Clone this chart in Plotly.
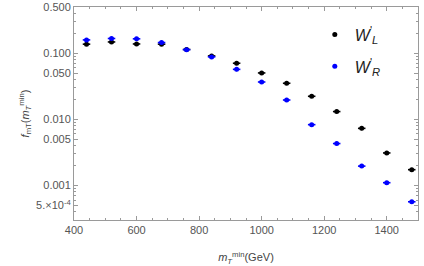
import plotly.graph_objects as go
import numpy as np

x = [440, 520, 600, 680, 760, 840, 920, 1000, 1080, 1160, 1240, 1320, 1400, 1480]
wl = [0.137, 0.148, 0.138, 0.137, 0.114, 0.091, 0.0705, 0.0503, 0.0351, 0.0223, 0.0131, 0.0073, 0.0031, 0.00173]
wr = [0.159, 0.167, 0.165, 0.145, 0.113, 0.088, 0.057, 0.0367, 0.0196, 0.0083, 0.0043, 0.00196, 0.0011, 0.000566]

ytickvals = [0.0005, 0.001, 0.005, 0.01, 0.05, 0.1, 0.5]
yticktext = ["5.×10<sup>-4</sup>", "0.001", "0.005", "0.010", "0.050", "0.100", "0.500"]
xtickvals = [400, 600, 800, 1000, 1200, 1400]

minor_y = []
for e in [-4, -3, -2, -1]:
    for d in range(1, 10):
        minor_y.append(d * 10.0 ** e)

fig = go.Figure()
for name, ys, col, grp in [("<i>W</i><sup>'</sup><sub><i>L</i></sub>", wl, "black", "L"),
                           ("<i>W</i><sup>'</sup><sub><i>R</i></sub>", wr, "blue", "R")]:
    fig.add_trace(go.Scatter(
        x=x, y=ys, mode="markers", name=name, legendgroup=grp,
        marker=dict(color=col, size=5),
        error_x=dict(type="constant", value=12, color=col, thickness=1.6, width=0),
        error_y=dict(type="percent", value=6, color=col, thickness=1.2, width=0),
    ))

axcol = "#9a9a9a"
fig.update_layout(
    width=424, height=266,
    margin=dict(l=74, r=6, t=7, b=46),
    paper_bgcolor="white", plot_bgcolor="white",
    font=dict(family="Liberation Sans, Arial", color="#555555", size=11),
    showlegend=True,
    legend=dict(x=0.70, y=0.95, xanchor="left", yanchor="top",
                font=dict(size=16, color="#222222"), bgcolor="rgba(0,0,0,0)",
                itemsizing="trace", tracegroupgap=8),
    xaxis=dict(range=[400, 1500], tickvals=xtickvals, showgrid=False, zeroline=False,
               showline=True, linecolor=axcol, linewidth=1, mirror="allticks", ticks="inside",
               ticklen=4, tickcolor=axcol, automargin=False,
               minor=dict(tickvals=list(range(400, 1501, 50)), ticks="inside", ticklen=2, tickcolor=axcol),
               title=dict(text="<i>m</i><sub><i>T</i></sub><sup>min</sup>(GeV)", standoff=18,
                          font=dict(size=11, color="#444444"))),
    yaxis=dict(type="log", range=[np.log10(3e-4), np.log10(0.5)], tickvals=ytickvals,
               ticktext=yticktext, showgrid=False, zeroline=False,
               showline=True, linecolor=axcol, linewidth=1, mirror="allticks", ticks="inside",
               ticklen=4, tickcolor=axcol, automargin=False,
               minor=dict(tickvals=minor_y, ticks="inside", ticklen=2, tickcolor=axcol),
               title=dict(text="<i>f</i><sub>mT</sub>(<i>m</i><sub><i>T</i></sub><sup>min</sup>)",
                          standoff=4, font=dict(size=11, color="#444444"))),
)
fig.write_html("out.html", config={"displayModeBar": False},
               post_script="document.body.style.margin='0';")
